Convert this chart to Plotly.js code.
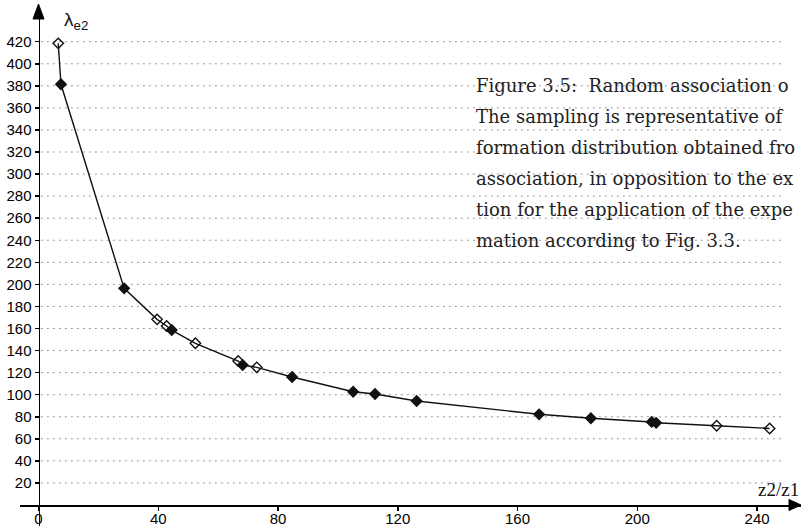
<!DOCTYPE html>
<html>
<head>
<meta charset="utf-8">
<script src="https://cdn.plot.ly/plotly-3.0.1.min.js"></script>
<style>
  html, body { margin: 0; padding: 0; background: #fff; }
  #chart { width: 801px; height: 526px; }
</style>
</head>
<body>
<div id="chart"></div>
<script>
// ---- data ----
const ratioZ = [6.6, 7.5, 28.6, 39.6, 42.8, 44.5, 52.4, 66.7, 68.2, 72.9, 84.7, 105.1, 112.4, 126.3, 167.2, 184.5, 204.8, 206.3, 226.5, 244.2];
const lambdaE2 = [418.5, 381.4, 196.4, 168.3, 162.3, 158.6, 146.6, 130.5, 126.9, 124.8, 116.0, 102.7, 100.6, 94.3, 82.2, 78.6, 75.3, 74.5, 71.8, 69.4];
const isOpen = [true, false, false, true, true, false, true, true, false, true, false, false, false, false, false, false, false, false, true, true];
const xTickVals = [0, 40, 80, 120, 160, 200, 240];
const yTickVals = [20, 40, 60, 80, 100, 120, 140, 160, 180, 200, 220, 240, 260, 280, 300, 320, 340, 360, 380, 400, 420];
const captionLines = [
  "Figure 3.5:&nbsp;&nbsp;Random association o",
  "The sampling is representative of",
  "formation distribution obtained fro",
  "association, in opposition to the ex",
  "tion for the application of the expe",
  "mation according to Fig. 3.3."
];
const yLabel = "λ<sub>e2</sub>";
const xLabel = "z2/z1";

// ---- geometry (pixels) ----
const W = 801, H = 526;
const M = {l: 20, r: 0, t: 8, b: 0};
const plotW = W - M.l - M.r, plotH = H - M.t - M.b;
const xRange = [-6.18, 254.68];
const yRange = [-19.04, 450.55];
const px2paperX = px => (px - M.l) / plotW;
const py2paperY = py => (H - M.b - py) / plotH;
const xToPaper = v => (v - xRange[0]) / (xRange[1] - xRange[0]);
const yToPaper = v => (v - yRange[0]) / (yRange[1] - yRange[0]);
const axisX = xToPaper(0);   // paper x of the y axis
const axisY = yToPaper(0);   // paper y of the x axis

const trace = {
  x: ratioZ,
  y: lambdaE2,
  type: 'scatter',
  mode: 'lines+markers',
  line: {color: '#111', width: 1.4},
  marker: {
    symbol: isOpen.map(o => o ? 'diamond-open' : 'diamond'),
    size: 8,
    color: '#111',
    line: {color: '#111', width: 1.4}
  },
  cliponaxis: false,
  hoverinfo: 'skip'
};

// dotted grid lines from the y axis towards the right
const shapes = yTickVals.map(v => ({
  type: 'line', xref: 'x', yref: 'y',
  x0: 0.8, x1: 248, y0: v, y1: v,
  line: {color: '#9a9a9a', width: 1, dash: '2px,4px'},
  layer: 'below'
}));

// arrow heads
const yAx = axisX, xAx = axisY;
const upApex = [yAx, py2paperY(4)];
const upL = [yAx - 5.5 / plotW, py2paperY(19)];
const upR = [yAx + 5.5 / plotW, py2paperY(19)];
shapes.push({
  type: 'path', xref: 'paper', yref: 'paper',
  path: `M ${upApex[0]} ${upApex[1]} L ${upL[0]} ${upL[1]} L ${upR[0]} ${upR[1]} Z`,
  fillcolor: '#000', line: {color: '#000', width: 1}
});
const rApex = [px2paperX(801), xAx];
const rT = [px2paperX(789), xAx + 5.5 / plotH];
const rB = [px2paperX(789), xAx - 5.5 / plotH];
shapes.push({
  type: 'path', xref: 'paper', yref: 'paper',
  path: `M ${rApex[0]} ${rApex[1]} L ${rT[0]} ${rT[1]} L ${rB[0]} ${rB[1]} Z`,
  fillcolor: '#000', line: {color: '#000', width: 1}
});

const annotations = captionLines.map((t, i) => ({
  xref: 'paper', yref: 'paper',
  x: px2paperX(474), y: py2paperY(85.8 + i * 31),
  xanchor: 'left', yanchor: 'middle',
  text: t, showarrow: false,
  font: {family: 'DejaVu Serif', size: 18, color: '#222'}
}));
annotations.push({
  xref: 'paper', yref: 'paper',
  x: px2paperX(62), y: py2paperY(21),
  xanchor: 'left', yanchor: 'middle',
  text: yLabel, showarrow: false,
  font: {family: 'Liberation Sans', size: 19, color: '#111'}
});
annotations.push({
  xref: 'paper', yref: 'paper',
  x: px2paperX(756), y: py2paperY(489),
  xanchor: 'left', yanchor: 'middle',
  text: xLabel, showarrow: false,
  font: {family: 'Liberation Serif', size: 19, color: '#111'}
});

const tickFont = {family: 'Liberation Sans', size: 15, color: '#000'};

const layout = {
  width: W, height: H,
  margin: M,
  paper_bgcolor: '#fff', plot_bgcolor: '#fff',
  showlegend: false,
  xaxis: {
    range: xRange, anchor: 'free', position: axisY,
    tickvals: xTickVals, ticktext: xTickVals.map(String),
    ticks: 'outside', ticklen: 4, tickwidth: 1.5, tickcolor: '#000',
    ticklabelstandoff: -5,
    showline: true, linecolor: '#000', linewidth: 1.8,
    showgrid: false, zeroline: false,
    tickfont: tickFont
  },
  yaxis: {
    range: yRange, anchor: 'free', position: axisX,
    tickvals: yTickVals, ticktext: yTickVals.map(String),
    ticks: 'outside', ticklen: 4, tickwidth: 1.5, tickcolor: '#000',
    showline: true, linecolor: '#000', linewidth: 1.8,
    showgrid: false, zeroline: false,
    tickfont: tickFont
  },
  shapes: shapes,
  annotations: annotations
};

Plotly.newPlot('chart', [trace], layout, {staticPlot: true, displayModeBar: false});
</script>
</body>
</html>
